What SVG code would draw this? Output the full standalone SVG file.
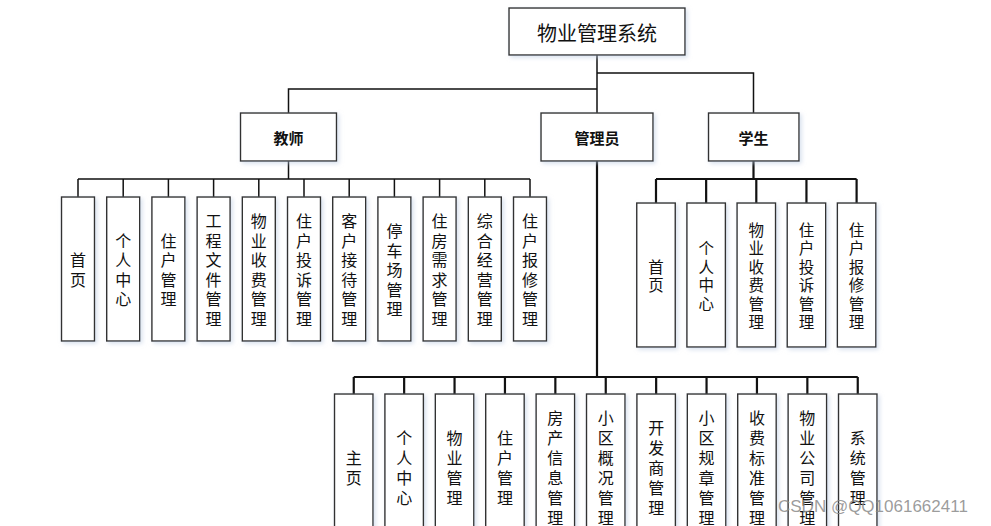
<svg xmlns="http://www.w3.org/2000/svg" width="991" height="526" viewBox="0 0 991 526">
<defs>
<filter id="sh" x="-20%" y="-20%" width="150%" height="150%">
<feDropShadow dx="2" dy="2" stdDeviation="2" flood-color="#b8c8e0" flood-opacity="0.55"/>
</filter>
<style>
.box{fill:#fff;stroke:#333;stroke-width:1.4;filter:url(#sh)}
.t{font-family:"Noto Sans CJK SC","Noto Sans",sans-serif;fill:#111;text-anchor:middle;dominant-baseline:central}
.root{font-size:20px}
.hd{font-size:15px;font-weight:bold}
.c{font-size:16px}
.cs{font-size:15.5px}
.ln{fill:none;stroke:#111;stroke-width:1.5}
.ln2{fill:none;stroke:#111;stroke-width:2.2}
.wm{font-family:"Liberation Sans",Arial,sans-serif;font-size:17px;fill:#8a8a8a;fill-opacity:0.85}
</style>
</defs>
<rect width="991" height="526" fill="#fff"/>

<g id="connectors">
<path class="ln" d="M597,55 V113 M597,89 H288.5 V113 M597,73 H753.5 V113"/>
<path class="ln" d="M288.5,161 V179 M78,179 H530 M78,179 V197 M123.2,179 V197 M168.4,179 V197 M213.6,179 V197 M258.8,179 V197 M304,179 V197 M349.2,179 V197 M394.4,179 V197 M439.6,179 V197 M484.8,179 V197 M530,179 V197"/>
<path class="ln2" d="M753.5,161 V179 M656,179 H856.6 M656,179 V203 M706.15,179 V203 M756.3,179 V203 M806.45,179 V203 M856.6,179 V203"/>
<path class="ln2" d="M597,161 V377 M353.75,377 H857.75 M353.75,377 V394 M404.15,377 V394 M454.55,377 V394 M504.95,377 V394 M555.35,377 V394 M605.75,377 V394 M656.15,377 V394 M706.55,377 V394 M756.95,377 V394 M807.35,377 V394 M857.75,377 V394"/>
</g>

<g id="root"><rect class="box" x="509" y="8" width="176" height="47"/><text class="t root" x="597" y="32">物业管理系统</text></g>
<g id="teacher"><rect class="box" x="240.5" y="113" width="96" height="48"/><text class="t hd" x="288.5" y="137">教师</text></g>
<g id="admin"><rect class="box" x="541" y="113" width="112" height="48"/><text class="t hd" x="597" y="137">管理员</text></g>
<g id="student"><rect class="box" x="708.5" y="113" width="90.5" height="48"/><text class="t hd" x="753.5" y="137">学生</text></g>

<g id="t1"><rect class="box" x="61.5" y="197" width="33" height="144"/><text class="t c"><tspan x="78" y="259.25">首</tspan><tspan x="78" y="278.75">页</tspan></text></g>
<g id="t2"><rect class="box" x="106.7" y="197" width="33" height="144"/><text class="t c"><tspan x="123.2" y="239.75">个</tspan><tspan x="123.2" y="259.25">人</tspan><tspan x="123.2" y="278.75">中</tspan><tspan x="123.2" y="298.25">心</tspan></text></g>
<g id="t3"><rect class="box" x="151.9" y="197" width="33" height="144"/><text class="t c"><tspan x="168.4" y="239.75">住</tspan><tspan x="168.4" y="259.25">户</tspan><tspan x="168.4" y="278.75">管</tspan><tspan x="168.4" y="298.25">理</tspan></text></g>
<g id="t4"><rect class="box" x="197.1" y="197" width="33" height="144"/><text class="t c"><tspan x="213.6" y="220.25">工</tspan><tspan x="213.6" y="239.75">程</tspan><tspan x="213.6" y="259.25">文</tspan><tspan x="213.6" y="278.75">件</tspan><tspan x="213.6" y="298.25">管</tspan><tspan x="213.6" y="317.75">理</tspan></text></g>
<g id="t5"><rect class="box" x="242.3" y="197" width="33" height="144"/><text class="t c"><tspan x="258.8" y="220.25">物</tspan><tspan x="258.8" y="239.75">业</tspan><tspan x="258.8" y="259.25">收</tspan><tspan x="258.8" y="278.75">费</tspan><tspan x="258.8" y="298.25">管</tspan><tspan x="258.8" y="317.75">理</tspan></text></g>
<g id="t6"><rect class="box" x="287.5" y="197" width="33" height="144"/><text class="t c"><tspan x="304" y="220.25">住</tspan><tspan x="304" y="239.75">户</tspan><tspan x="304" y="259.25">投</tspan><tspan x="304" y="278.75">诉</tspan><tspan x="304" y="298.25">管</tspan><tspan x="304" y="317.75">理</tspan></text></g>
<g id="t7"><rect class="box" x="332.7" y="197" width="33" height="144"/><text class="t c"><tspan x="349.2" y="220.25">客</tspan><tspan x="349.2" y="239.75">户</tspan><tspan x="349.2" y="259.25">接</tspan><tspan x="349.2" y="278.75">待</tspan><tspan x="349.2" y="298.25">管</tspan><tspan x="349.2" y="317.75">理</tspan></text></g>
<g id="t8"><rect class="box" x="377.9" y="197" width="33" height="144"/><text class="t c"><tspan x="394.4" y="230">停</tspan><tspan x="394.4" y="249.5">车</tspan><tspan x="394.4" y="269">场</tspan><tspan x="394.4" y="288.5">管</tspan><tspan x="394.4" y="308">理</tspan></text></g>
<g id="t9"><rect class="box" x="423.1" y="197" width="33" height="144"/><text class="t c"><tspan x="439.6" y="220.25">住</tspan><tspan x="439.6" y="239.75">房</tspan><tspan x="439.6" y="259.25">需</tspan><tspan x="439.6" y="278.75">求</tspan><tspan x="439.6" y="298.25">管</tspan><tspan x="439.6" y="317.75">理</tspan></text></g>
<g id="t10"><rect class="box" x="468.3" y="197" width="33" height="144"/><text class="t c"><tspan x="484.8" y="220.25">综</tspan><tspan x="484.8" y="239.75">合</tspan><tspan x="484.8" y="259.25">经</tspan><tspan x="484.8" y="278.75">营</tspan><tspan x="484.8" y="298.25">管</tspan><tspan x="484.8" y="317.75">理</tspan></text></g>
<g id="t11"><rect class="box" x="513.5" y="197" width="33" height="144"/><text class="t c"><tspan x="530" y="220.25">住</tspan><tspan x="530" y="239.75">户</tspan><tspan x="530" y="259.25">报</tspan><tspan x="530" y="278.75">修</tspan><tspan x="530" y="298.25">管</tspan><tspan x="530" y="317.75">理</tspan></text></g>

<g id="s1"><rect class="box" x="636.75" y="203" width="38.5" height="144"/><text class="t cs"><tspan x="656" y="265.75">首</tspan><tspan x="656" y="284.25">页</tspan></text></g>
<g id="s2"><rect class="box" x="686.9" y="203" width="38.5" height="144"/><text class="t cs"><tspan x="706.15" y="247.25">个</tspan><tspan x="706.15" y="265.75">人</tspan><tspan x="706.15" y="284.25">中</tspan><tspan x="706.15" y="302.75">心</tspan></text></g>
<g id="s3"><rect class="box" x="737.05" y="203" width="38.5" height="144"/><text class="t cs"><tspan x="756.3" y="228.75">物</tspan><tspan x="756.3" y="247.25">业</tspan><tspan x="756.3" y="265.75">收</tspan><tspan x="756.3" y="284.25">费</tspan><tspan x="756.3" y="302.75">管</tspan><tspan x="756.3" y="321.25">理</tspan></text></g>
<g id="s4"><rect class="box" x="787.2" y="203" width="38.5" height="144"/><text class="t cs"><tspan x="806.45" y="228.75">住</tspan><tspan x="806.45" y="247.25">户</tspan><tspan x="806.45" y="265.75">投</tspan><tspan x="806.45" y="284.25">诉</tspan><tspan x="806.45" y="302.75">管</tspan><tspan x="806.45" y="321.25">理</tspan></text></g>
<g id="s5"><rect class="box" x="837.35" y="203" width="38.5" height="144"/><text class="t cs"><tspan x="856.6" y="228.75">住</tspan><tspan x="856.6" y="247.25">户</tspan><tspan x="856.6" y="265.75">报</tspan><tspan x="856.6" y="284.25">修</tspan><tspan x="856.6" y="302.75">管</tspan><tspan x="856.6" y="321.25">理</tspan></text></g>

<g id="a1"><rect class="box" x="334.5" y="394" width="38.5" height="146"/><text class="t c"><tspan x="353.75" y="457">主</tspan><tspan x="353.75" y="477">页</tspan></text></g>
<g id="a2"><rect class="box" x="384.9" y="394" width="38.5" height="146"/><text class="t c"><tspan x="404.15" y="437">个</tspan><tspan x="404.15" y="457">人</tspan><tspan x="404.15" y="477">中</tspan><tspan x="404.15" y="497">心</tspan></text></g>
<g id="a3"><rect class="box" x="435.3" y="394" width="38.5" height="146"/><text class="t c"><tspan x="454.55" y="437">物</tspan><tspan x="454.55" y="457">业</tspan><tspan x="454.55" y="477">管</tspan><tspan x="454.55" y="497">理</tspan></text></g>
<g id="a4"><rect class="box" x="485.7" y="394" width="38.5" height="146"/><text class="t c"><tspan x="504.95" y="437">住</tspan><tspan x="504.95" y="457">户</tspan><tspan x="504.95" y="477">管</tspan><tspan x="504.95" y="497">理</tspan></text></g>
<g id="a5"><rect class="box" x="536.1" y="394" width="38.5" height="146"/><text class="t c"><tspan x="555.35" y="417">房</tspan><tspan x="555.35" y="437">产</tspan><tspan x="555.35" y="457">信</tspan><tspan x="555.35" y="477">息</tspan><tspan x="555.35" y="497">管</tspan><tspan x="555.35" y="517">理</tspan></text></g>
<g id="a6"><rect class="box" x="586.5" y="394" width="38.5" height="146"/><text class="t c"><tspan x="605.75" y="417">小</tspan><tspan x="605.75" y="437">区</tspan><tspan x="605.75" y="457">概</tspan><tspan x="605.75" y="477">况</tspan><tspan x="605.75" y="497">管</tspan><tspan x="605.75" y="517">理</tspan></text></g>
<g id="a7"><rect class="box" x="636.9" y="394" width="38.5" height="146"/><text class="t c"><tspan x="656.15" y="427">开</tspan><tspan x="656.15" y="447">发</tspan><tspan x="656.15" y="467">商</tspan><tspan x="656.15" y="487">管</tspan><tspan x="656.15" y="507">理</tspan></text></g>
<g id="a8"><rect class="box" x="687.3" y="394" width="38.5" height="146"/><text class="t c"><tspan x="706.55" y="417">小</tspan><tspan x="706.55" y="437">区</tspan><tspan x="706.55" y="457">规</tspan><tspan x="706.55" y="477">章</tspan><tspan x="706.55" y="497">管</tspan><tspan x="706.55" y="517">理</tspan></text></g>
<g id="a9"><rect class="box" x="737.7" y="394" width="38.5" height="146"/><text class="t c"><tspan x="756.95" y="417">收</tspan><tspan x="756.95" y="437">费</tspan><tspan x="756.95" y="457">标</tspan><tspan x="756.95" y="477">准</tspan><tspan x="756.95" y="497">管</tspan><tspan x="756.95" y="517">理</tspan></text></g>
<g id="a10"><rect class="box" x="788.1" y="394" width="38.5" height="146"/><text class="t c"><tspan x="807.35" y="417">物</tspan><tspan x="807.35" y="437">业</tspan><tspan x="807.35" y="457">公</tspan><tspan x="807.35" y="477">司</tspan><tspan x="807.35" y="497">管</tspan><tspan x="807.35" y="517">理</tspan></text></g>
<g id="a11"><rect class="box" x="838.5" y="394" width="38.5" height="146"/><text class="t c"><tspan x="857.75" y="437">系</tspan><tspan x="857.75" y="457">统</tspan><tspan x="857.75" y="477">管</tspan><tspan x="857.75" y="497">理</tspan></text></g>

<text class="wm" x="778" y="512">CSDN @QQ1061662411</text>
</svg>
